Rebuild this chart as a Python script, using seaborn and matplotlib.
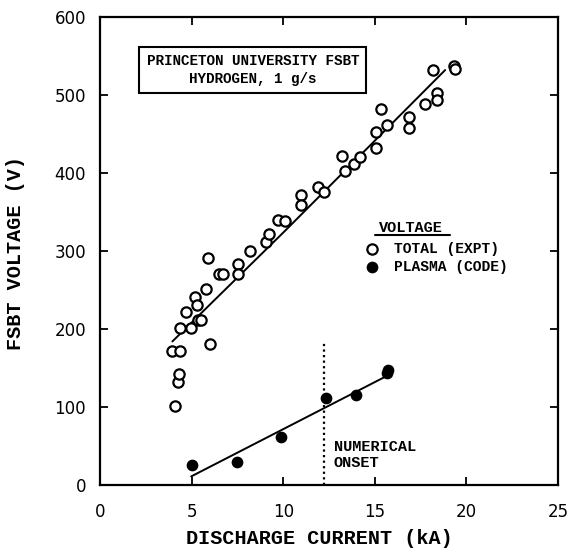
import matplotlib
matplotlib.use("Agg")
import matplotlib.pyplot as plt
import seaborn as sns
import pandas as pd

# Total voltage (experiment), open circles
total_current = [4.11, 4.26, 4.31, 3.95, 4.35, 4.38, 4.71, 4.95, 5.16, 5.30, 5.34, 5.54,
                 5.76, 5.92, 6.03, 6.49, 6.70, 7.52, 7.52, 8.19, 9.06, 9.20, 9.70, 10.10,
                 10.96, 10.96, 11.92, 12.20, 13.20, 13.37, 13.86, 14.18, 15.07, 15.07,
                 15.36, 15.67, 16.85, 16.85, 17.75, 18.39, 18.39, 18.20, 19.30, 19.40]
total_voltage = [101, 132, 142, 172, 172, 201, 222, 201, 241, 231, 212, 212,
                 251, 291, 181, 270, 270, 283, 270, 300, 311, 322, 340, 338,
                 372, 359, 382, 376, 422, 402, 412, 420, 452, 432,
                 482, 461, 472, 458, 489, 503, 493, 532, 537, 533]

# Plasma voltage (code), filled circles
plasma_current = [5.02, 7.46, 9.87, 12.32, 13.99, 15.67, 15.70]
plasma_voltage = [25, 29, 62, 112, 116, 143, 148]

# Fit lines
total_fit_current = [3.95, 10.15, 18.84]
total_fit_voltage = [184, 327, 532]
plasma_fit_current = [4.98, 15.67]
plasma_fit_voltage = [11, 140]

onset_current = 12.25
onset_top = 182

x_ticks = [0, 5, 10, 15, 20, 25]
y_ticks = [0, 100, 200, 300, 400, 500, 600]

sns.set_style("ticks")
plt.rcParams["text.color"] = "black"
plt.rcParams["axes.labelcolor"] = "black"
mono = ["Liberation Mono", "DejaVu Sans Mono"]

fig = plt.figure(figsize=(5.7, 5.52), dpi=100)
ax = fig.add_axes([0.1754, 0.1214, 0.8036, 0.8478])

df_t = pd.DataFrame({"I": total_current, "V": total_voltage})
df_p = pd.DataFrame({"I": plasma_current, "V": plasma_voltage})
df_tf = pd.DataFrame({"I": total_fit_current, "V": total_fit_voltage})
df_pf = pd.DataFrame({"I": plasma_fit_current, "V": plasma_fit_voltage})

sns.lineplot(data=df_tf, x="I", y="V", ax=ax, color="black", lw=1.4, sort=False)
sns.lineplot(data=df_pf, x="I", y="V", ax=ax, color="black", lw=1.4, sort=False)
sns.scatterplot(data=df_t, x="I", y="V", ax=ax, marker="o", s=55,
                facecolor="white", edgecolor="black", linewidth=1.6, zorder=3)
sns.scatterplot(data=df_p, x="I", y="V", ax=ax, marker="o", s=55,
                color="black", edgecolor="black", linewidth=1, zorder=3)

ax.plot([onset_current, onset_current], [0, onset_top], color="black",
        ls=(0, (1, 1.5)), lw=1.6)
ax.text(onset_current + 0.5, 49, "NUMERICAL", family=mono, fontsize=11,
        fontweight="bold", va="center", ha="left", color="black")
ax.text(onset_current + 0.5, 28, "ONSET", family=mono, fontsize=11,
        fontweight="bold", va="center", ha="left", color="black")

# Title box
ax.text(8.34, 532, "PRINCETON UNIVERSITY FSBT\nHYDROGEN, 1 g/s", family=mono,
        fontsize=10.3, fontweight="bold", ha="center", va="center", linespacing=1.3,
        color="black",
        bbox=dict(boxstyle="square,pad=0.5", facecolor="white", edgecolor="black", lw=1.5))

# Legend
ax.text(16.98, 329, "VOLTAGE", family=mono, fontsize=11, fontweight="bold",
        ha="center", va="center", color="black")
ax.plot([15.0, 19.1], [320, 320], color="black", lw=1.5)
ax.scatter([14.86], [303], s=55, facecolor="white", edgecolor="black", linewidth=1.6)
ax.scatter([14.86], [280], s=55, color="black")
ax.text(16.05, 303, "TOTAL (EXPT)", family=mono, fontsize=10.5, fontweight="bold",
        ha="left", va="center", color="black")
ax.text(16.05, 280, "PLASMA (CODE)", family=mono, fontsize=10.5, fontweight="bold",
        ha="left", va="center", color="black")

ax.set_xlim(0, 25)
ax.set_ylim(0, 600)
ax.set_xticks(x_ticks)
ax.set_yticks(y_ticks)
ax.tick_params(direction="in", length=6, width=1.3, top=True, right=True,
               labelsize=12, colors="black")
ax.tick_params(axis="y", pad=10)
ax.tick_params(axis="x", pad=13)
for sp in ax.spines.values():
    sp.set_linewidth(1.6)
    sp.set_color("black")
    sp.set_visible(True)
ax.set_xlabel("DISCHARGE CURRENT (kA)", family=mono, fontsize=14.5, fontweight="bold",
              color="black")
ax.set_ylabel("FSBT VOLTAGE (V)", family=mono, fontsize=14.5, fontweight="bold",
              color="black")
ax.xaxis.set_label_coords(0.48, -0.095)
ax.yaxis.set_label_coords(-0.164, 0.495)

fig.savefig("out.png", dpi=100)
